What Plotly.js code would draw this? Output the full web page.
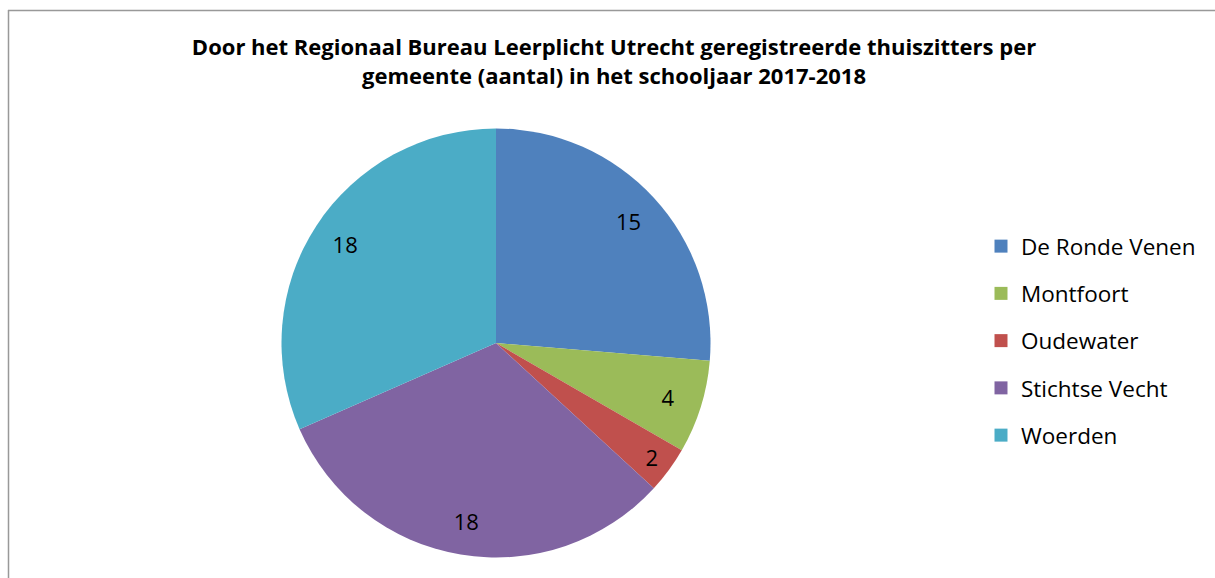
<!DOCTYPE html>
<html>
<head>
<meta charset="utf-8">
<script src="https://cdn.plot.ly/plotly-3.0.1.min.js"></script>
<style>html,body{margin:0;padding:0;background:#fff;}#chart{width:1215px;height:578px;}</style>
</head>
<body>
<div id="chart"></div>
<script>
const categories = ["De Ronde Venen", "Montfoort", "Oudewater", "Stichtse Vecht", "Woerden"];
const values = [15, 4, 2, 18, 18];
const colors = ["#4F81BD", "#9BBB59", "#C0504D", "#8064A2", "#4BACC6"];
const titleText = "Door het Regionaal Bureau Leerplicht Utrecht geregistreerde thuiszitters per<br>gemeente (aantal) in het schooljaar 2017-2018";

const W = 1215, H = 578;
const px = v => v / W;
const py = v => 1 - v / H;
const cx = 496, cy = 343, r = 214.5;
const pieDomain = {x: [px(cx - r), px(cx + r)], y: [py(cy + r), py(cy - r)]};

const traces = [{
  type: "pie",
  labels: categories,
  values: values,
  sort: false,
  direction: "clockwise",
  rotation: 0,
  marker: {colors: colors, line: {width: 0}},
  textinfo: "none",
  domain: pieDomain,
  showlegend: false,
  hoverinfo: "label+value"
}, {
  // transparent ring carrying the data labels further out, as in the original
  type: "pie",
  labels: categories,
  values: values,
  sort: false,
  direction: "clockwise",
  rotation: 0,
  hole: 0.68,
  marker: {colors: colors.map(() => "rgba(0,0,0,0)"), line: {width: 0}},
  textinfo: "value",
  textposition: "inside",
  insidetextorientation: "horizontal",
  textfont: {family: "Open Sans, sans-serif", size: 22, color: "#000"},
  domain: pieDomain,
  showlegend: false,
  hoverinfo: "skip"
}];
categories.forEach((c, i) => {
  traces.push({
    type: "scatter", mode: "markers", x: [null], y: [null],
    name: c, legendgroup: "g" + i, showlegend: true,
    marker: {symbol: "square", size: 13, color: colors[i]},
    hoverinfo: "skip"
  });
});

const layout = {
  width: W, height: H,
  margin: {l: 0, r: 0, t: 0, b: 0},
  paper_bgcolor: "#fff", plot_bgcolor: "rgba(0,0,0,0)",
  xaxis: {visible: false, range: [0, 1], domain: [0, 1]},
  yaxis: {visible: false, range: [0, 1], domain: [0, 1]},
  title: {
    text: titleText,
    font: {family: "Open Sans, sans-serif", size: 22, color: "#000", weight: 700},
    x: px(614), xanchor: "center", xref: "paper",
    y: py(55), yanchor: "top", yref: "paper"
  },
  legend: {
    x: px(981), xanchor: "left", y: py(225), yanchor: "top",
    font: {family: "Open Sans, sans-serif", size: 22.5, color: "#000"},
    tracegroupgap: 15, itemwidth: 30, bgcolor: "rgba(0,0,0,0)"
  },
  shapes: [
    {type: "line", xref: "paper", yref: "paper", x0: px(8.5), x1: px(8.5), y0: py(H + 5), y1: py(10), line: {color: "#999", width: 1.5}},
    {type: "line", xref: "paper", yref: "paper", x0: px(8), x1: px(W + 5), y0: py(10.5), y1: py(10.5), line: {color: "#999", width: 1.5}}
  ]
};

Plotly.newPlot("chart", traces, layout, {displayModeBar: false, staticPlot: true});
</script>
</body>
</html>
